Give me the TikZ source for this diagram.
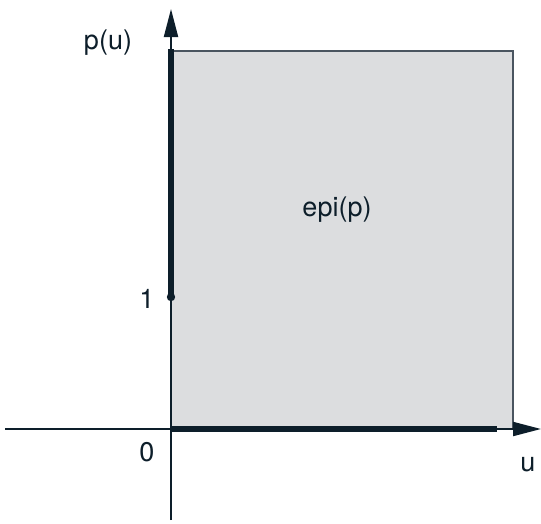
\documentclass[tikz,border=0pt]{standalone}
\usepackage{fontspec}
\setmainfont{TeX Gyre Heros}
\usetikzlibrary{arrows.meta}
\definecolor{ink}{HTML}{0D1E2A}
\definecolor{epifill}{HTML}{DCDDDF}
\definecolor{epiedge}{HTML}{4A5560}
\begin{document}
\begin{tikzpicture}[x=1pt,y=-1pt,
  lbl/.style={font=\fontsize{27}{27}\selectfont, text=ink, inner sep=0pt},
  axisline/.style={draw=ink, line width=2pt},
  thickline/.style={draw=ink, line width=5.5pt},
  tip/.style={-{Triangle[length=28pt,width=14pt]}}]
\useasboundingbox (0,0) rectangle (541,523);
% region
\filldraw[fill=epifill, draw=epiedge, line width=1.2pt] (171,51) rectangle (513,429);
% coordinates
\coordinate (O) at (171,429);
\coordinate (xl) at (5,429);
\coordinate (xr) at (541,429);
\coordinate (yb) at (171,520);
\coordinate (yt) at (171,9);
\coordinate (one) at (171,297);
\coordinate (top) at (171,49);
\coordinate (xend) at (497,429);
% axes
\draw[axisline, tip] (xl) -- (xr);
\draw[axisline, tip] (yb) -- (yt);
% thick parts
\draw[thickline] (one) -- (top);
\draw[thickline] (O) -- (xend);
\fill[ink] (one) circle (4.2);
% labels
\node[lbl] (pu) at (108,43) {p(u)};
\node[lbl] (l1) at (147,299) {1};
\node[lbl] (l0) at (147,452) {0};
\node[lbl] (lu) at (528,465) {u};
\node[lbl] (epi) at (337,210) {epi(p)};
\end{tikzpicture}
\end{document}
